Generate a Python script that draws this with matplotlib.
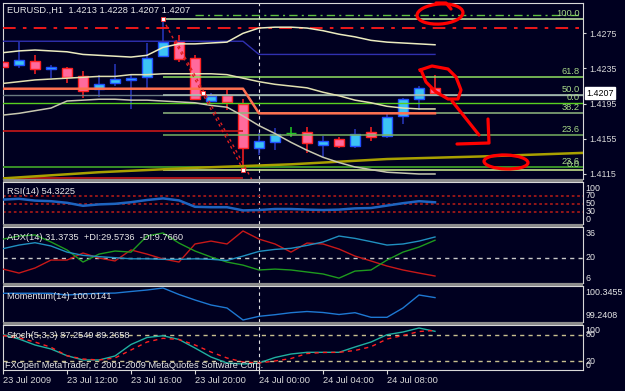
import numpy as np
import matplotlib
matplotlib.use("Agg")
import matplotlib.pyplot as plt
from matplotlib.patches import Ellipse, Rectangle

plt.rcParams["font.family"] = ["Liberation Sans", "DejaVu Sans"]

W, H = 625, 391
BG = "#000020"
FG = "#e8e8e8"
FS = 6.7
FS_R = 6.4

# EURUSD H1 bars, 23 Jul 08:00 -> 24 Jul 11:00
opens = [1.4242, 1.4239, 1.4244, 1.4234, 1.4236, 1.4226, 1.4212, 1.4218, 1.4222, 1.4225,
         1.4249, 1.4266, 1.4247, 1.4198, 1.4205, 1.4195, 1.4145, 1.4151, 1.4162, 1.4163,
         1.4148, 1.4155, 1.4147, 1.4163, 1.4158, 1.4181, 1.4200, 1.4213]
highs = [1.4244, 1.4265, 1.4250, 1.4239, 1.4237, 1.4232, 1.4228, 1.4240, 1.4229, 1.4264,
         1.4291, 1.4273, 1.4250, 1.4207, 1.4212, 1.4200, 1.4162, 1.4167, 1.4168, 1.4168,
         1.4158, 1.4157, 1.4166, 1.4168, 1.4184, 1.4201, 1.4215, 1.4228]
lows = [1.4235, 1.4236, 1.4229, 1.4224, 1.4218, 1.4201, 1.4203, 1.4215, 1.4189, 1.4213,
        1.4248, 1.4242, 1.4199, 1.4197, 1.4188, 1.4120, 1.4137, 1.4142, 1.4157, 1.4139,
        1.4134, 1.4144, 1.4144, 1.4153, 1.4156, 1.4172, 1.4188, 1.4207]
closes = [1.4237, 1.4245, 1.4234, 1.4237, 1.4225, 1.4209, 1.4217, 1.4223, 1.4224, 1.4247,
          1.4265, 1.4246, 1.4200, 1.4204, 1.4197, 1.4144, 1.4153, 1.4161, 1.4162, 1.4150,
          1.4153, 1.4147, 1.4161, 1.4157, 1.4180, 1.4200, 1.4213, 1.4207]

upper_band = [1.4253, 1.4255, 1.4256, 1.4255, 1.4254, 1.4251, 1.4250, 1.4249, 1.4248, 1.4250,
              1.4259, 1.4263, 1.4263, 1.4264, 1.4265, 1.4275, 1.4281, 1.4282, 1.4282, 1.4281,
              1.4278, 1.4274, 1.4271, 1.4267, 1.4265, 1.4264, 1.4263, 1.4262]
middle_band = [1.4218, 1.4220, 1.4222, 1.4223, 1.4224, 1.4225, 1.4226, 1.4226, 1.4228, 1.4228,
               1.4229, 1.4229, 1.4229, 1.4229, 1.4228, 1.4224, 1.4220, 1.4217, 1.4215, 1.4213,
               1.4208, 1.4204, 1.4199, 1.4196, 1.4192, 1.4190, 1.4189, 1.4189]
lower_band = [1.4182, 1.4184, 1.4187, 1.4190, 1.4198, 1.4199, 1.4200, 1.4200, 1.4199, 1.4199,
              1.4198, 1.4197, 1.4196, 1.4193, 1.4191, 1.4181, 1.4170, 1.4161, 1.4151, 1.4142,
              1.4134, 1.4128, 1.4123, 1.4120, 1.4117, 1.4116, 1.4115, 1.4115]
channel_hi = [1.4266, 1.4266, 1.4266, 1.4266, 1.4266, 1.4266, 1.4266, 1.4266, 1.4266, 1.4266,
              1.4266, 1.4266, 1.4266, 1.4266, 1.4266, 1.4266, 1.4251, 1.4251, 1.4251, 1.4251,
              1.4251, 1.4251, 1.4251, 1.4251, 1.4251, 1.4251, 1.4251, 1.4251]
channel_mid = [1.4212, 1.4212, 1.4212, 1.4212, 1.4212, 1.4212, 1.4212, 1.4212, 1.4212, 1.4212,
               1.4212, 1.4212, 1.4212, 1.4212, 1.4212, 1.4212, 1.4184, 1.4184, 1.4184, 1.4184,
               1.4184, 1.4184, 1.4184, 1.4184, 1.4184, 1.4184, 1.4184, 1.4184]

trend_x = [0, 6, 12, 18, 24, 30, 36.25]
trend_y = [1.4110, 1.4117, 1.4122, 1.4126, 1.4132, 1.4135, 1.4139]

zz_x = [10, 12.5, 15]
zz_y = [1.4291, 1.4207, 1.4120]
zz2_x = [10.8, 15.6]
zz2_y = [1.4267, 1.4107]

fib_prices = [1.4291, 1.4225, 1.4205, 1.4184, 1.4159, 1.4119]
fib_names = ["100.0", "61.8", "50.0", "38.2", "23.6", "0.0"]
fib2_prices = [1.4196, 1.4123]
fib2_names = ["0.0", "23.6"]
top_green = 1.4296
top_red = 1.4281
support_levels = [1.4164, 1.4110]

price_ticks = [1.4275, 1.4235, 1.4195, 1.4155, 1.4115]
last_price = 1.4207

rsi = [61, 63, 58.5, 57, 53, 45.5, 49, 50.5, 54.5, 60, 64, 59, 43, 42, 42, 34, 35, 37.5,
       37.5, 36, 35, 36, 39, 40, 46, 52, 57, 54.3]
adx = [24.9, 26.9, 28.2, 26.4, 23.0, 21.2, 20.5, 19.9, 19.3, 19.3, 19.0, 19.0, 19.3, 19.0,
       18.4, 20.8, 23.4, 24.5, 25.1, 26.7, 28.6, 31.9, 30.6, 28.8, 26.9, 27.5, 29.1, 31.37]
plus_di = [30.2, 31.9, 32.5, 28.6, 24.2, 17.5, 21.9, 23.6, 23.0, 31.9, 33.6, 28.0, 23.6, 20.3,
           17.5, 15.8, 13.1, 13.6, 13.1, 12.0, 10.9, 8.6, 12.5, 13.1, 18.6, 23.0, 25.8, 29.57]
minus_di = [13.6, 11.4, 14.2, 18.6, 18.6, 22.5, 19.7, 18.1, 24.2, 21.9, 19.2, 17.5, 27.5, 29.1,
            27.5, 34.7, 30.2, 27.5, 23.0, 28.0, 27.5, 24.7, 20.8, 18.1, 15.3, 13.1, 11.4, 9.77]
momentum = [100.163, 100.163, 100.163, 100.163, 100.104, 100.138, 100.163, 100.17, 100.225,
            100.276, 100.3455, 100.121, 99.931, 99.759, 99.655, 99.2408, 99.368, 99.424, 99.493,
            99.534, 99.500, 99.431, 99.493, 99.334, 99.334, 99.655, 100.104, 100.0141]
stoch_main = [79.6, 69.9, 56.4, 47.4, 32.2, 22.6, 22.6, 31.6, 57.5, 73.3, 77.3, 68.8, 49.6, 29.3,
              15.8, 13.5, 15.8, 28.2, 36.1, 39.9, 39.9, 39.9, 51.9, 63.1, 79.6, 85.7, 94.7, 87.25]
stoch_signal = [77.8, 72.2, 63.1, 51.2, 32.2, 24.8, 22.6, 27.1, 45.1, 63.1, 71.5, 68.8, 56.4, 40.6,
                27.1, 18.0, 15.8, 20.3, 25.9, 37.2, 39.5, 39.9, 44.0, 52.5, 69.9, 77.8, 86.8, 89.27]

time_ticks = [0, 4, 8, 12, 16, 20, 24]
time_labels = ["23 Jul 2009", "23 Jul 12:00", "23 Jul 16:00", "23 Jul 20:00",
               "24 Jul 00:00", "24 Jul 04:00", "24 Jul 08:00"]
day_break = 16

x = np.arange(len(opens))
XMAX = 36.25

fig = plt.figure(figsize=(W / 100, H / 100), dpi=100)
fig.patch.set_facecolor(BG)


def panel(top, bottom):
    ax = fig.add_axes([3 / W, 1 - bottom / H, 580 / W, (bottom - top) / H])
    ax.set_facecolor(BG)
    ax.set_xlim(0, XMAX)
    for s in ax.spines.values():
        s.set_color("#d8d8d8")
        s.set_linewidth(0.8)
    ax.set_xticks([])
    ax.set_yticks([])
    ax.axvline(day_break, color="#e0e0e0", lw=0.8, dashes=(3, 3), zorder=1)
    return ax


def caption(ax, text, dy):
    ax.annotate(text, xy=(0, 1), xycoords="axes fraction", xytext=(4, -dy),
                textcoords="offset pixels", va="center", ha="left", color=FG, fontsize=FS,
                zorder=20)


def right_label(ax, y, text, va="center", color=FG):
    ax.text(1.004, y, text, transform=ax.get_yaxis_transform(), ha="left", va=va,
            color=color, fontsize=FS_R, clip_on=False)


# ---------------- main price chart
ax = panel(3, 179)
ax.set_ylim(1.41093, 1.43095)

bull = np.array(closes) > np.array(opens)
doji = np.array(closes) == np.array(opens)
wick_c = ["#22cc22" if d else ("#2838c0" if b else "#ff2020") for b, d in zip(bull, doji)]
face_c = ["#22cc22" if d else ("#3cc3f5" if b else "#ff6a9c") for b, d in zip(bull, doji)]
edge_c = ["#22cc22" if d else ("#2050ff" if b else "#ff2222") for b, d in zip(bull, doji)]
ax.vlines(x, lows, highs, colors=wick_c, lw=1.1, zorder=3)
bottoms = np.minimum(opens, closes)
heights = np.abs(np.array(closes) - np.array(opens))
ax.bar(x, heights, 0.66, bottom=bottoms, color=face_c, edgecolor=edge_c, lw=1.0, zorder=4)

# horizontal objects
ax.plot([12, XMAX], [top_green, top_green], color="#60c040", lw=1.0,
        dashes=(6, 3, 1.5, 3), zorder=5)
ax.axhline(top_red, color="#ff1a1a", lw=1.3, dashes=(7, 4, 2, 4), zorder=5)
ax.axhline(1.4205, color="#6a7a80", lw=1.0, zorder=5)
ax.axhline(fib2_prices[0], color="#58d020", lw=1.0, zorder=5)
ax.axhline(fib2_prices[1], color="#3c9a28", lw=1.3, zorder=5)
for lvl in support_levels:
    ax.hlines(lvl, 0, 15, color="#c81818", lw=1.2, zorder=5)
fib_cols = ["#c8f0a8", "#90e060", "#b0c8b8", "#90b880", "#78b060", "#d0f090"]
for lvl, col in zip(fib_prices, fib_cols):
    ax.hlines(lvl, 10, XMAX, color=col, lw=1.1, zorder=5)

ax.plot(trend_x, trend_y, color="#a8a000", lw=1.8, zorder=5)
ax.plot(x, channel_hi, color="#3030b0", lw=1.0, zorder=6)
ax.plot(x, channel_mid, color="#ff7050", lw=1.8, zorder=6)
ax.plot(x, upper_band, color="#ececc0", lw=1.1, zorder=6)
ax.plot(x, middle_band, color="#e0e0b0", lw=1.1, zorder=6)
ax.plot(x, lower_band, color="#c8c8b0", lw=1.1, zorder=6)
ax.plot(zz_x[::2], zz_y[::2], color="#e02020", lw=1.0, dashes=(2, 2.5), zorder=6)
ax.plot(zz2_x, zz2_y, color="#e02020", lw=1.0, dashes=(2, 2.5), zorder=6)
ax.plot(zz_x, zz_y, ls="none", marker="s", ms=3.5, mfc="white", mec="#ff3030", mew=0.6, zorder=7)

for lvl, name in zip(fib_prices + fib2_prices, fib_names + fib2_names):
    ax.annotate(name, xy=(XMAX, lvl), xytext=(-3, 1), textcoords="offset pixels",
                ha="right", va="bottom", color="#a8d888", fontsize=FS, zorder=8)

ax.yaxis.tick_right()
ax.set_yticks(price_ticks)
ax.set_yticklabels([f"{p:.4f}" for p in price_ticks])
ax.tick_params(axis="y", direction="out", length=2.5, width=0.8, pad=2,
               colors="#d8d8d8", labelsize=FS_R)
ax.text(1.005, last_price, f"{last_price:.4f}", transform=ax.get_yaxis_transform(),
        ha="left", va="center", color="black", fontsize=FS_R, clip_on=False,
        bbox=dict(boxstyle="square,pad=0.15", fc="white", ec="white"))
caption(ax, "EURUSD.,H1  1.4213 1.4228 1.4207 1.4207", 7)

# ---------------- RSI
ax = panel(182, 224)
ax.set_ylim(0, 105)
for lvl in (70, 50, 30):
    ax.axhline(lvl, color="#a01818", lw=1.3, dashes=(1.5, 1.5))
ax.plot(x, rsi, color="#1e64c0", lw=1.8, zorder=5)
caption(ax, "RSI(14) 54.3225", 9.7)
right_label(ax, 100, "100", va="top")
right_label(ax, 70, "70")
right_label(ax, 50, "50")
right_label(ax, 30, "30")
right_label(ax, 0, "0", va="bottom")

# ---------------- ADX
ax = panel(227, 283)
ax.set_ylim(5.9, 36.9)
ax.axhline(20, color="#c8c8c8", lw=1.0, dashes=(3, 3))
ax.plot(x, minus_di, color="#c81818", lw=1.0, zorder=5)
ax.plot(x, plus_di, color="#1e9a1e", lw=1.0, zorder=5)
ax.plot(x, adx, color="#2090c0", lw=1.0, zorder=5)
caption(ax, "ADX(14) 31.3735  +DI:29.5736  -DI:9.7660", 10.7)
right_label(ax, 36, "36", va="top")
right_label(ax, 20, "20")
right_label(ax, 6, "6", va="bottom")

# ---------------- Momentum
ax = panel(286, 322)
ax.set_ylim(99.1719, 100.4145)
ax.plot(x, momentum, color="#1e78d2", lw=1.0, zorder=5)
caption(ax, "Momentum(14) 100.0141", 10.7)
right_label(ax, 100.3455, "100.3455", va="top")
right_label(ax, 99.2408, "99.2408", va="bottom")

# ---------------- Stochastic
ax = panel(325, 370)
ax.set_ylim(0, 101.5)
for lvl in (80, 20):
    ax.axhline(lvl, color="#c8c090", lw=1.0, dashes=(3, 3))
ax.plot(x, stoch_main, color="#20b0a0", lw=1.0, zorder=5)
ax.plot(x, stoch_signal, color="#ff2020", lw=1.0, dashes=(3, 3), zorder=5)
caption(ax, "Stoch(5,3,3) 87.2549 89.2658", 10)
ax.annotate("FXOpen MetaTrader, c 2001-2009 MetaQuotes Software Corp.", xy=(0, 0),
            xycoords="axes fraction", xytext=(2, 5), textcoords="offset pixels",
            va="center", ha="left", color=FG, fontsize=FS, zorder=20)
right_label(ax, 100, "100", va="top")
right_label(ax, 80, "80")
right_label(ax, 20, "20")
right_label(ax, 0, "0", va="bottom")
ax.set_xticks(time_ticks)
ax.set_xticklabels(time_labels)
for lbl in ax.get_xticklabels():
    lbl.set_ha("left")
ax.tick_params(axis="x", direction="out", length=3, width=0.8, pad=1,
               colors="#d8d8d8", labelsize=FS)

# ---------------- splitters and hand-drawn marks (pixel overlay)
ov = fig.add_axes([0, 0, 1, 1], zorder=50)
ov.set_xlim(0, W)
ov.set_ylim(H, 0)
ov.axis("off")
ov.patch.set_alpha(0)
for y0 in (179, 224, 283, 322):
    ov.add_patch(Rectangle((3, y0), 580, 3, color="#8c8c8c", lw=0))

RED = "#ff0000"
ov.add_patch(Ellipse((440, 14), 46, 20, angle=-4, fill=False, ec=RED, lw=2.3))
ov.plot([436, 446, 451], [3, 3, 9], color=RED, lw=2.3, solid_capstyle="round")
ov.plot([420, 432, 448, 456, 461, 458, 448, 436, 426, 421],
        [70, 66, 69, 77, 90, 99, 99, 92, 82, 70], color=RED, lw=2.3,
        solid_joinstyle="round")
ov.plot([452, 479], [101, 135], color=RED, lw=2.3, solid_capstyle="round")
ov.plot([488, 489, 457], [119, 143, 144], color=RED, lw=2.3, solid_capstyle="round")
ov.add_patch(Ellipse((506, 162), 44, 14, angle=2, fill=False, ec=RED, lw=2.3))

fig.savefig("out.png", dpi=100, facecolor=BG)
